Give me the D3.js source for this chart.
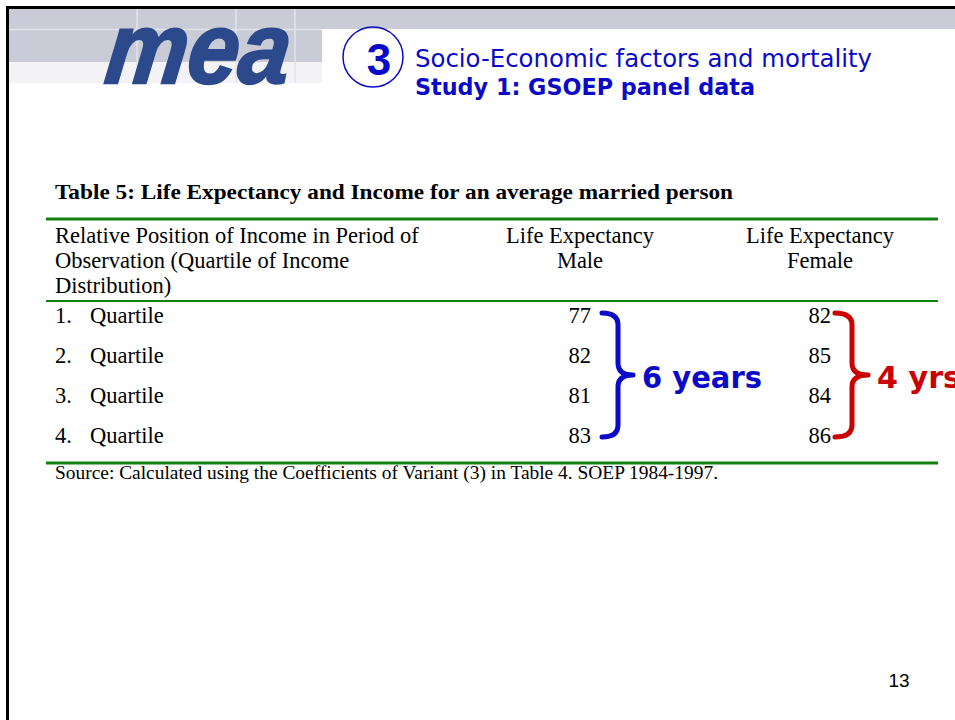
<!DOCTYPE html>
<html>
<head>
<meta charset="utf-8">
<script src="https://cdn.jsdelivr.net/npm/d3@7"></script>
<style>
    body { margin: 0; background: #fff; }
    svg { display: block; }
</style>
</head>
<body>
<div id="slide"></div>
<script>
// Table data
const quartiles = ['1.', '2.', '3.', '4.'];
const rowLabels = ['Quartile', 'Quartile', 'Quartile', 'Quartile'];
const maleLE = [77, 82, 81, 83];
const femaleLE = [82, 85, 84, 86];
const headerLeft = ['Relative Position of Income in Period of', 'Observation (Quartile of Income', 'Distribution)'];
const headerMale = ['Life Expectancy', 'Male'];
const headerFemale = ['Life Expectancy', 'Female'];

const width = 955;
const height = 720;
const blue = '#0a0ac8';
const red = '#cc0000';
const green = '#118011';
const serif = '"Liberation Serif", "Times New Roman", serif';
const sans = '"DejaVu Sans", Verdana, sans-serif';

const svg = d3.select('#slide')
    .append('svg')
    .attr('width', width)
    .attr('height', height);

// Header band
svg.append('rect').attr('x', 8).attr('y', 8).attr('width', width).attr('height', 21).attr('fill', '#c9cbd7');
svg.append('rect').attr('x', 8).attr('y', 30).attr('width', 314).attr('height', 32).attr('fill', '#c9cbd7');
svg.append('rect').attr('x', 8).attr('y', 62).attr('width', 314).attr('height', 21).attr('fill', '#f3f3f6');
[137, 236, 295].forEach(x => {
    svg.append('line').attr('x1', x).attr('x2', x).attr('y1', 8).attr('y2', 83)
        .attr('stroke', '#e2e3ea').attr('stroke-width', 1.5);
});
svg.append('line').attr('x1', 8).attr('x2', 322).attr('y1', 29.5).attr('y2', 29.5)
    .attr('stroke', '#e2e3ea').attr('stroke-width', 1.5);

// Slide frame
svg.append('line').attr('x1', 6).attr('x2', width).attr('y1', 7.5).attr('y2', 7.5)
    .attr('stroke', '#000').attr('stroke-width', 3);
svg.append('line').attr('x1', 7.5).attr('x2', 7.5).attr('y1', 6).attr('y2', height)
    .attr('stroke', '#000').attr('stroke-width', 3);

// Logo
svg.append('text')
    .attr('transform', 'translate(103,83) scale(1,1.15) skewX(-8)')
    .attr('textLength', 184).attr('lengthAdjust', 'spacingAndGlyphs')
    .attr('font-family', '"Liberation Sans", Arial, sans-serif')
    .attr('font-weight', 'bold').attr('font-style', 'italic')
    .attr('font-size', 88)
    .attr('fill', '#2c4a8b')
    .attr('stroke', '#2c4a8b').attr('stroke-width', 2)
    .text('mea');

// Section number
svg.append('circle').attr('cx', 373).attr('cy', 57).attr('r', 30)
    .attr('fill', 'none').attr('stroke', blue).attr('stroke-width', 1.5);
svg.append('text')
    .attr('x', 379).attr('y', 75)
    .attr('text-anchor', 'middle')
    .attr('font-family', '"Liberation Sans", Arial, sans-serif')
    .attr('font-weight', 'bold').attr('font-size', 44)
    .attr('fill', blue)
    .text('3');

// Slide title
svg.append('text')
    .attr('x', 415).attr('y', 67)
    .attr('textLength', 457).attr('lengthAdjust', 'spacingAndGlyphs')
    .attr('font-family', sans).attr('font-size', 25)
    .attr('fill', blue)
    .text('Socio-Economic factors and mortality');
svg.append('text')
    .attr('x', 415).attr('y', 95)
    .attr('textLength', 340).attr('lengthAdjust', 'spacingAndGlyphs')
    .attr('font-family', sans).attr('font-weight', 'bold').attr('font-size', 23)
    .attr('fill', blue)
    .text('Study 1: GSOEP panel data');

// Table caption
svg.append('text')
    .attr('x', 55).attr('y', 199)
    .attr('textLength', 678).attr('lengthAdjust', 'spacingAndGlyphs')
    .attr('font-family', serif).attr('font-weight', 'bold').attr('font-size', 22)
    .attr('fill', '#000')
    .text('Table 5: Life Expectancy and Income for an average married person');

// Scales
const y = d3.scalePoint().domain(quartiles).range([323, 443]);
const col = d3.scaleOrdinal().domain(['label', 'male', 'female']).range([55, 591, 831]);
const headCenter = d3.scaleOrdinal().domain(['male', 'female']).range([580, 820]);

// Rules
[[219, 3], [301, 2], [463, 3]].forEach(([ly, w]) => {
    svg.append('line').attr('x1', 46).attr('x2', 938).attr('y1', ly).attr('y2', ly)
        .attr('stroke', green).attr('stroke-width', w);
});

// Header cells
const lineY = d3.scaleLinear().domain([0, 1]).range([243, 268]);
const textStyle = sel => sel.attr('font-family', serif).attr('font-size', 22.5).attr('fill', '#000');

svg.append('g').selectAll('text').data(headerLeft).join('text')
    .call(textStyle)
    .attr('x', col('label')).attr('y', (d, i) => lineY(i))
    .text(d => d);
svg.append('g').selectAll('text').data(headerMale).join('text')
    .call(textStyle)
    .attr('text-anchor', 'middle')
    .attr('x', headCenter('male')).attr('y', (d, i) => lineY(i))
    .text(d => d);
svg.append('g').selectAll('text').data(headerFemale).join('text')
    .call(textStyle)
    .attr('text-anchor', 'middle')
    .attr('x', headCenter('female')).attr('y', (d, i) => lineY(i))
    .text(d => d);

// Body rows
const rows = svg.append('g').selectAll('g').data(quartiles).join('g')
    .attr('transform', d => 'translate(0,' + y(d) + ')');
rows.append('text').call(textStyle).attr('x', col('label')).text(d => d);
rows.append('text').call(textStyle).attr('x', 90).text((d, i) => rowLabels[i]);
rows.append('text').call(textStyle).attr('x', col('male')).attr('text-anchor', 'end').text((d, i) => maleLE[i]);
rows.append('text').call(textStyle).attr('x', col('female')).attr('text-anchor', 'end').text((d, i) => femaleLE[i]);

// Source
svg.append('text')
    .attr('x', 55).attr('y', 479)
    .attr('textLength', 663).attr('lengthAdjust', 'spacingAndGlyphs')
    .attr('font-family', serif).attr('font-size', 18)
    .attr('fill', '#000')
    .text('Source: Calculated using the Coefficients of Variant (3) in Table 4. SOEP 1984-1997.');

// Braces
function bracePath(x0, y0, y1, xv, xt) {
    const mid = (y0 + y1) / 2;
    const r = 12;
    return 'M' + x0 + ',' + y0 +
        ' Q' + xv + ',' + y0 + ' ' + xv + ',' + (y0 + r) +
        ' L' + xv + ',' + (mid - r) +
        ' Q' + xv + ',' + mid + ' ' + xt + ',' + mid +
        ' Q' + xv + ',' + mid + ' ' + xv + ',' + (mid + r) +
        ' L' + xv + ',' + (y1 - r) +
        ' Q' + xv + ',' + y1 + ' ' + x0 + ',' + y1;
}

const braceTop = y(quartiles[0]) - 10;
const braceBot = y(quartiles[quartiles.length - 1]) - 6;
const braceMid = (braceTop + braceBot) / 2;

const braces = [
    { x0: col('male') + 11, xv: col('male') + 27, xt: col('male') + 42, color: blue,
      label: (d3.max(maleLE) - d3.min(maleLE)) + ' years', tx: 642, tl: 120 },
    { x0: col('female') + 4, xv: col('female') + 21, xt: col('female') + 37, color: red,
      label: (d3.max(femaleLE) - d3.min(femaleLE)) + ' yrs', tx: 877, tl: 84 }
];

braces.forEach(b => {
    svg.append('path')
        .attr('d', bracePath(b.x0, braceTop, braceBot, b.xv, b.xt))
        .attr('fill', 'none')
        .attr('stroke', b.color)
        .attr('stroke-width', 5)
        .attr('stroke-linecap', 'round')
        .attr('stroke-linejoin', 'round');
    svg.append('text')
        .attr('x', b.tx).attr('y', braceMid + 13)
        .attr('textLength', b.tl).attr('lengthAdjust', 'spacingAndGlyphs')
        .attr('font-family', sans).attr('font-weight', 'bold').attr('font-size', 31)
        .attr('fill', b.color)
        .text(b.label);
});

// Page number
svg.append('text')
    .attr('x', 899).attr('y', 687)
    .attr('text-anchor', 'middle')
    .attr('font-family', '"Liberation Sans", Arial, sans-serif')
    .attr('font-size', 19)
    .attr('fill', '#000')
    .text('13');
</script>
</body>
</html>
